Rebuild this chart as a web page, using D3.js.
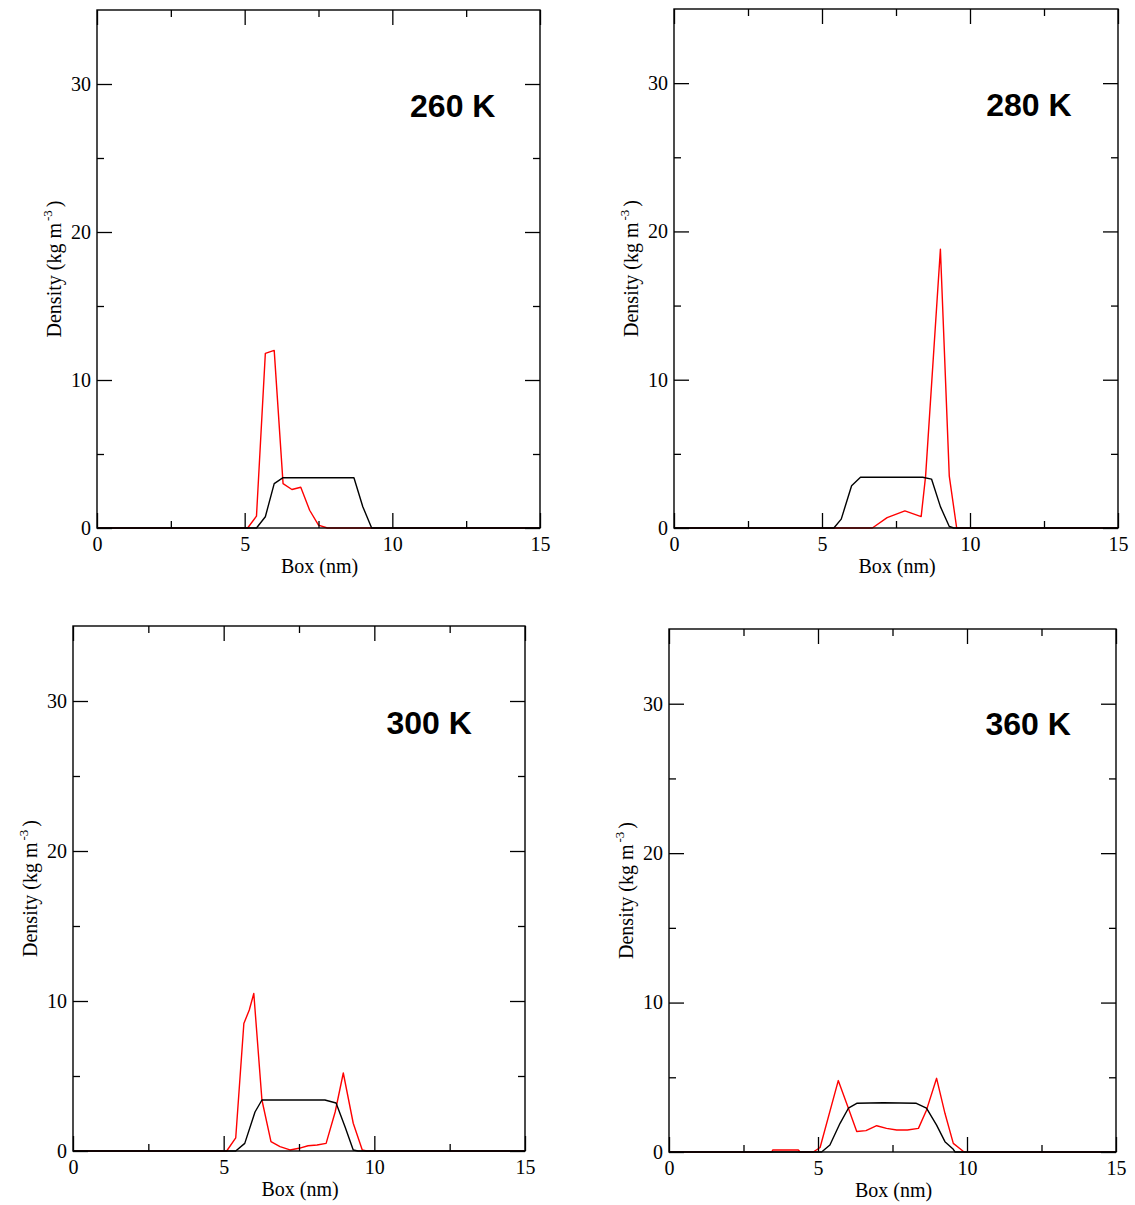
<!DOCTYPE html>
<html><head><meta charset="utf-8">
<script src="https://cdn.jsdelivr.net/npm/d3@7"></script>
<style>body{margin:0;background:#fff}svg{display:block}</style>
</head><body>
<svg id="c" width="1135" height="1205"></svg>
<script>
// ---- data ----
const panelLabels = ["260 K", "280 K", "300 K", "360 K"];
const xTicks = [0, 5, 10, 15];
const yTicks = [0, 10, 20, 30];
const xMinor = [2.5, 7.5, 12.5];
const yMinor = [5, 15, 25];

const box260Red = [0, 5.1, 5.4, 5.7, 6.0, 6.3, 6.6, 6.9, 7.2, 7.5, 7.8, 15];
const dens260Red = [0, 0, 0.8, 11.8, 12.0, 3.0, 2.6, 2.75, 1.2, 0.2, 0, 0];
const box260Black = [0, 5.4, 5.7, 6.0, 6.3, 8.7, 9.0, 9.3, 15];
const dens260Black = [0, 0, 0.76, 3.0, 3.4, 3.4, 1.44, 0, 0];

const box280Red = [0, 6.7, 7.2, 7.8, 8.35, 8.5, 9.0, 9.3, 9.55, 15];
const dens280Red = [0, 0, 0.7, 1.15, 0.77, 3.5, 18.8, 3.5, 0, 0];
const box280Black = [0, 5.4, 5.65, 6.0, 6.3, 8.4, 8.7, 9.0, 9.3, 9.45, 15];
const dens280Black = [0, 0, 0.6, 2.85, 3.42, 3.42, 3.3, 1.44, 0.1, 0, 0];

const box300Red = [0, 5.1, 5.4, 5.67, 5.85, 6.0, 6.27, 6.57, 6.87, 7.2, 7.5, 7.8, 8.1, 8.4, 8.7, 8.97, 9.3, 9.6, 9.75, 15];
const dens300Red = [0, 0, 0.87, 8.5, 9.4, 10.5, 3.4, 0.62, 0.29, 0.07, 0.18, 0.35, 0.4, 0.51, 2.6, 5.2, 1.85, 0.07, 0, 0];
const box300Black = [0, 5.4, 5.7, 6.04, 6.27, 8.36, 8.73, 9.03, 9.3, 9.46, 15];
const dens300Black = [0, 0, 0.51, 2.6, 3.4, 3.4, 3.2, 1.6, 0.07, 0, 0];

const box360Red = [0, 3.45, 3.48, 4.34, 4.4, 4.84, 5.07, 5.68, 5.98, 6.3, 6.61, 6.97, 7.3, 7.64, 8.0, 8.37, 8.64, 8.98, 9.26, 9.54, 9.82, 9.9, 15];
const dens360Red = [0, 0, 0.13, 0.13, 0, 0, 0.3, 4.78, 3.15, 1.37, 1.43, 1.76, 1.58, 1.47, 1.47, 1.58, 2.8, 4.93, 2.59, 0.58, 0.13, 0, 0];
const box360Black = [0, 5.12, 5.4, 5.74, 6.02, 6.3, 7.19, 8.3, 8.64, 8.98, 9.26, 9.54, 9.6, 15];
const dens360Black = [0, 0, 0.47, 1.92, 2.93, 3.26, 3.3, 3.26, 2.93, 1.8, 0.69, 0.18, 0, 0];

const seriesBox = [[box260Red, box260Black], [box280Red, box280Black], [box300Red, box300Black], [box360Red, box360Black]];
const seriesDens = [[dens260Red, dens260Black], [dens280Red, dens280Black], [dens300Red, dens300Black], [dens360Red, dens360Black]];
const seriesColors = ["#ff0000", "#000000"];

// ---- layout ----
const frames = [
  {l: 97, r: 540, t: 10, b: 528, lx: 10.6, ly: 27.8},
  {l: 674, r: 1118, t: 9, b: 528, lx: 10.55, ly: 27.8},
  {l: 73, r: 525, t: 626, b: 1151, lx: 10.4, ly: 27.8},
  {l: 669, r: 1116, t: 629, b: 1152, lx: 10.62, ly: 27.9}
];

const svg = d3.select("#c");
const serif = "'Liberation Serif','Times New Roman',serif";

frames.forEach((f, i) => {
  const x = d3.scaleLinear().domain([0, 15]).range([f.l, f.r]);
  const y = d3.scaleLinear().domain([0, 35]).range([f.b, f.t]);
  const g = svg.append("g");

  // series: red first, black on top
  seriesBox[i].forEach((bx, s) => {
    const pts = bx.map((v, k) => [v, seriesDens[i][s][k]]);
    g.append("path")
      .attr("d", d3.line().x(d => x(d[0])).y(d => y(d[1]))(pts))
      .attr("fill", "none").attr("stroke", seriesColors[s]).attr("stroke-width", 1.4)
      .attr("stroke-linejoin", "round");
  });

  // axes with inward ticks
  const mk = (axis, tr, vals, size, labels) => {
    const a = g.append("g").attr("transform", tr)
      .call(axis.tickValues(vals).tickSize(size).tickFormat(labels ? d3.format("d") : ""));
    a.select(".domain").remove();
    a.selectAll(".tick line").attr("stroke", "#000").attr("stroke-width", 1.3);
    a.selectAll("text").attr("font-family", serif).attr("font-size", 20).attr("fill", "#000");
    return a;
  };
  const bx = mk(d3.axisBottom(x), `translate(0,${f.b})`, xTicks, -15, true);
  bx.selectAll("text").attr("y", 23).attr("dy", 0);
  mk(d3.axisBottom(x), `translate(0,${f.b})`, xMinor, -7, false);
  mk(d3.axisTop(x), `translate(0,${f.t})`, xTicks, -15, false);
  mk(d3.axisTop(x), `translate(0,${f.t})`, xMinor, -7, false);
  const ly = mk(d3.axisLeft(y), `translate(${f.l},0)`, yTicks, -15, true);
  ly.selectAll("text").attr("x", -6);
  mk(d3.axisLeft(y), `translate(${f.l},0)`, yMinor, -7, false);
  mk(d3.axisRight(y), `translate(${f.r},0)`, yTicks, -15, false);
  mk(d3.axisRight(y), `translate(${f.r},0)`, yMinor, -7, false);

  // frame
  g.append("rect").attr("x", f.l).attr("y", f.t).attr("width", f.r - f.l).attr("height", f.b - f.t)
    .attr("fill", "none").attr("stroke", "#000").attr("stroke-width", 1.4);

  // axis titles
  g.append("text").attr("x", (f.l + f.r) / 2 + 1).attr("y", f.b + 45)
    .attr("text-anchor", "middle").attr("font-family", serif).attr("font-size", 20).text("Box (nm)");
  const yt = g.append("text")
    .attr("transform", `translate(${f.l - 36},${(f.t + f.b) / 2}) rotate(-90)`)
    .attr("text-anchor", "middle").attr("font-family", serif).attr("font-size", 20);
  yt.append("tspan").text("Density (kg m");
  yt.append("tspan").attr("dy", -9).attr("dx", 2).attr("font-size", 13).text("-3");
  yt.append("tspan").attr("dy", 9).attr("dx", 3).text(")");

  // panel label
  g.append("text").attr("x", x(f.lx)).attr("y", y(f.ly))
    .attr("font-family", "'Liberation Sans',Arial,sans-serif").attr("font-weight", "bold")
    .attr("font-size", 32).attr("fill", "#000").text(panelLabels[i]);
});
</script>
</body></html>
